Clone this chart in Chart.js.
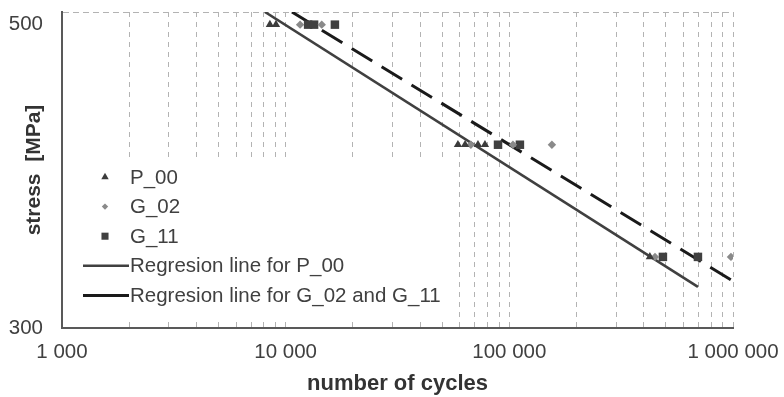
<!DOCTYPE html>
<html>
<head>
<meta charset="utf-8">
<script src="https://cdn.jsdelivr.net/npm/chart.js@4/dist/chart.umd.min.js"></script>
<style>
  html, body { margin: 0; padding: 0; background: #fff; }
  #wrap { width: 784px; height: 397px; }
</style>
</head>
<body>
<div id="wrap"><canvas id="sn"></canvas></div>
<script>
// S-N plot: cycles to failure vs stress, three specimen groups plus two fitted lines.
// Values.

const P00_N = [8500, 9050, 58900, 63400, 72400, 77800, 425000];
const P00_S = [492, 492, 416, 416, 416, 416, 345];

const G02_N = [11600, 14500, 67300, 103800, 155000, 448000, 979000];
const G02_S = [492, 492, 416, 416, 416, 345, 345];

const G11_N = [12600, 13400, 16600, 89000, 111500, 486000, 697000];
const G11_S = [492, 492, 492, 416, 416, 345, 345];

// regression lines (end points)
const REG_P_N = [8080, 697000];
const REG_P_S = [500, 326];
const REG_G_N = [10670, 979000];
const REG_G_S = [500, 330.5];

const X_DECADES = [1000, 10000, 100000, 1000000];
const Y_TICKS = [300, 500];

const FONT = "'Liberation Sans', Arial, sans-serif";
const TXT = "#404040";
const GRID = "#b3b3b3";
const AXIS = "#595959";

const pts = (xs, ys) => xs.map((x, i) => ({ x, y: ys[i] }));
const spaced = (v) => String(v).replace(/\B(?=(\d{3})+(?!\d))/g, " ");

// every log minor position between the decades gets a dashed gridline
const xGrid = [];
X_DECADES.slice(0, -1).forEach((d) => { for (let m = 1; m < 10; m++) xGrid.push(m * d); });
xGrid.push(X_DECADES[X_DECADES.length - 1]);

// Legend sits inside the plot on a white patch (hides the gridlines under it).
const insideLegend = {
  id: "insideLegend",
  beforeDatasetsDraw(chart) {
    const { ctx, chartArea: a } = chart;
    ctx.save();
    ctx.fillStyle = "#fff";
    ctx.fillRect(a.left + 4, a.top + 145, 386, 161);
    ctx.restore();
  },
  afterDatasetsDraw(chart) {
    const { ctx, chartArea: a } = chart;
    ctx.save();
    ctx.font = "20.5px " + FONT;
    ctx.textBaseline = "middle";
    ctx.textAlign = "left";
    chart.data.datasets.forEach((ds, i) => {
      const y = a.top + 165 + i * 29.6;
      if (ds.showLine) {
        ctx.strokeStyle = ds.legendColor;
        ctx.lineWidth = ds.legendWidth;
        ctx.setLineDash([]);
        ctx.beginPath();
        ctx.moveTo(a.left + 21, y);
        ctx.lineTo(a.left + 67, y);
        ctx.stroke();
      } else {
        ctx.fillStyle = ds.pointBackgroundColor;
        Chart.helpers.drawPoint(ctx, {
          pointStyle: ds.pointStyle, rotation: 0,
          radius: ds.legendRadius, borderWidth: 0
        }, a.left + 43, y);
      }
      ctx.fillStyle = TXT;
      ctx.fillText(ds.label, a.left + 68, y + 1);
    });
    ctx.restore();
  }
};

new Chart(document.getElementById("sn"), {
  type: "scatter",
  data: {
    datasets: [
      { label: "P_00", data: pts(P00_N, P00_S), pointStyle: "triangle",
        pointRadius: 4.8, legendRadius: 4.3, pointBackgroundColor: "#3c3c3c", pointBorderWidth: 0 },
      { label: "G_02", data: pts(G02_N, G02_S), pointStyle: "rectRot",
        pointRadius: 4.2, legendRadius: 3.2, pointBackgroundColor: "#8a8a8a", pointBorderWidth: 0 },
      { label: "G_11", data: pts(G11_N, G11_S), pointStyle: "rect",
        pointRadius: 6, legendRadius: 5, pointBackgroundColor: "#404040", pointBorderWidth: 0 },
      { label: "Regresion line for P_00", data: pts(REG_P_N, REG_P_S), showLine: true,
        borderColor: "#404040", borderWidth: 2.6, pointRadius: 0,
        legendColor: "#404040", legendWidth: 2.4 },
      { label: "Regresion line for G_02 and G_11", data: pts(REG_G_N, REG_G_S), showLine: true,
        borderColor: "#1a1a1a", borderWidth: 3, borderDash: [24, 11], pointRadius: 0,
        legendColor: "#1a1a1a", legendWidth: 3 },
    ]
  },
  options: {
    responsive: true,
    maintainAspectRatio: false,
    animation: false,
    layout: { padding: { top: 12, right: 51, left: 0, bottom: 0 } },
    plugins: { legend: { display: false }, tooltip: { enabled: false } },
    scales: {
      x: {
        type: "logarithmic",
        min: X_DECADES[0], max: X_DECADES[X_DECADES.length - 1],
        afterBuildTicks: (s) => { s.ticks = xGrid.map((v) => ({ value: v })); },
        afterFit: (s) => { s.height = 69; s.paddingLeft = 0; s.paddingRight = 0; },
        grid: { color: GRID, lineWidth: 1, drawTicks: false },
        border: { color: AXIS, width: 2, dash: [5, 5] },
        ticks: {
          autoSkip: false, maxRotation: 0, minRotation: 0, padding: 12,
          color: TXT, font: { family: FONT, size: 20.5 },
          callback: (v) => (X_DECADES.includes(v) ? spaced(v) : "")
        },
        title: {
          display: true, text: "number of cycles", color: "#333",
          font: { family: FONT, size: 22, weight: "bold" }, padding: { top: 0, bottom: 0 }
        }
      },
      y: {
        type: "linear",
        min: Y_TICKS[0], max: Y_TICKS[Y_TICKS.length - 1],
        afterBuildTicks: (s) => { s.ticks = Y_TICKS.map((v) => ({ value: v })); },
        afterFit: (s) => { s.width = 62; s.paddingTop = 0; s.paddingBottom = 0; },
        grid: { color: GRID, lineWidth: 1, drawTicks: false },
        border: { color: AXIS, width: 2, dash: [6, 4] },
        ticks: {
          padding: 19, color: TXT, font: { family: FONT, size: 20.5 },
          callback: (v) => (v === Y_TICKS[Y_TICKS.length - 1] ? ["", String(v)] : String(v))
        },
        title: {
          display: true, text: "stress  [MPa]", color: "#333",
          font: { family: FONT, size: 21, weight: "bold" }, padding: { top: 22, bottom: 0 }
        }
      }
    }
  },
  plugins: [insideLegend]
});
</script>
</body>
</html>
